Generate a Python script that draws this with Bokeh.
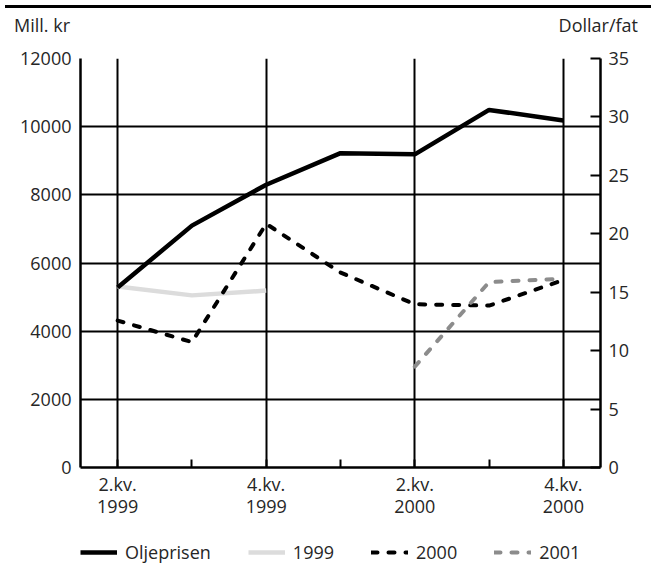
from bokeh.plotting import figure
from bokeh.models import (Range1d, LinearAxis, FixedTicker, Grid, Legend, LegendItem, Div)
from bokeh.layouts import column
from bokeh.embed import file_html
from bokeh.resources import INLINE

# ---- data ----
quarters = [0, 1, 2, 3, 4, 5, 6]
quarter_names = ["2.kv.", "", "4.kv.", "", "2.kv.", "", "4.kv."]
year_names = ["1999", "", "1999", "", "2000", "", "2000"]
oil_price = [15.4, 20.7, 24.2, 26.9, 26.8, 30.6, 29.7]          # Dollar/fat (right axis)
x_1999 = [0, 1, 2]
val_1999 = [5310, 5050, 5190]                                    # Mill. kr
val_2000 = [4310, 3680, 7150, 5720, 4790, 4750, 5500]            # Mill. kr
x_2001 = [4, 5, 6]
val_2001 = [2960, 5440, 5540]                                    # Mill. kr
left_ticks = [0, 2000, 4000, 6000, 8000, 10000, 12000]
right_ticks = [0, 5, 10, 15, 20, 25, 30, 35]
series_names = ["Oljeprisen", "1999", "2000", "2001"]
unit_left = "Mill. kr"
unit_right = "Dollar/fat"

FONT = "Open Sans"
TXT = "#262626"
FS = "18px"
W = 651

STY = {
    "Oljeprisen": dict(line_color="black", line_width=4.5),
    "1999": dict(line_color="#dcdcdc", line_width=4.5),
    "2000": dict(line_color="black", line_width=4, line_dash="6 11", line_cap="round"),
    "2001": dict(line_color="#8c8c8c", line_width=4, line_dash="6 11", line_cap="round"),
}

# ---------- header: rule + unit texts ----------
hdr_html = (
    f'<div style="position:relative;width:{W}px;height:28px;font-family:\'{FONT}\';'
    f'font-size:18px;color:{TXT};">'
    f'<div style="position:absolute;left:0;top:0px;width:{W}px;height:3px;background:#000;"></div>'
    f'<span style="position:absolute;left:9px;top:8px;line-height:24px;white-space:nowrap;">{unit_left}</span>'
    f'<span style="position:absolute;right:18px;top:8px;line-height:24px;white-space:nowrap;">{unit_right}</span>'
    '</div>'
)
hdr = Div(text=hdr_html, width=W, height=28)

# ---------- main chart ----------
p = figure(frame_width=520, frame_height=409,
           x_range=Range1d(-0.5, 6.5), y_range=Range1d(0, 12000),
           output_backend="svg", toolbar_location=None,
           min_border_left=80, min_border_right=51, min_border_top=20, min_border_bottom=53,
           outline_line_color=None, background_fill_color="white", border_fill_color="white")
p.extra_y_ranges = {"oil": Range1d(0, 35)}

p.xgrid.visible = False
p.ygrid.ticker = FixedTicker(ticks=left_ticks)
p.ygrid.grid_line_color = "black"
p.ygrid.grid_line_width = 2
p.add_layout(Grid(dimension=0, ticker=FixedTicker(ticks=[0, 2, 4, 6]),
                  grid_line_color="black", grid_line_width=2))

xa = p.xaxis[0]
xa.ticker = FixedTicker(ticks=quarters)
xa.major_label_overrides = {q: l for q, l in zip(quarters, quarter_names)}
xa.major_tick_in = 8
xa.major_tick_out = 0
xa.major_tick_line_width = 2
xa.minor_tick_line_color = None
xa.axis_line_width = 2.5
xa.major_label_text_font = FONT
xa.major_label_text_font_size = FS
xa.major_label_text_color = TXT
xa.major_label_standoff = 4

xa2 = LinearAxis(ticker=FixedTicker(ticks=quarters))
xa2.major_label_overrides = {q: l for q, l in zip(quarters, year_names)}
xa2.axis_line_color = None
xa2.major_tick_line_color = None
xa2.minor_tick_line_color = None
xa2.major_tick_in = 0
xa2.major_tick_out = 0
xa2.major_label_text_font = FONT
xa2.major_label_text_font_size = FS
xa2.major_label_text_color = TXT
xa2.major_label_standoff = 1
p.add_layout(xa2, "below")

ya = p.yaxis[0]
ya.ticker = FixedTicker(ticks=left_ticks)
ya.major_tick_in = 0
ya.major_tick_out = 0
ya.minor_tick_line_color = None
ya.axis_line_width = 2.5
ya.major_label_text_font = FONT
ya.major_label_text_font_size = FS
ya.major_label_text_color = TXT
ya.major_label_standoff = 9

ra = LinearAxis(y_range_name="oil", ticker=FixedTicker(ticks=right_ticks))
ra.major_tick_in = 10
ra.major_tick_out = 0
ra.major_tick_line_width = 2
ra.minor_tick_line_color = None
ra.axis_line_width = 2.5
ra.major_label_text_font = FONT
ra.major_label_text_font_size = FS
ra.major_label_text_color = TXT
ra.major_label_standoff = 8
p.add_layout(ra, "right")

p.line(x_1999, val_1999, **STY["1999"])
p.line(quarters, val_2000, **STY["2000"])
p.line(x_2001, val_2001, **STY["2001"])
p.line(quarters, oil_price, y_range_name="oil", **STY["Oljeprisen"])

# ---------- legend strip ----------
lg = figure(width=W, height=44, frame_width=520, x_range=Range1d(-0.5, 6.5),
            y_range=Range1d(-200, -100),
            output_backend="svg", toolbar_location=None,
            min_border_left=80, min_border_right=51, min_border_top=0, min_border_bottom=0,
            outline_line_color=None, border_fill_color="white")
lg.axis.visible = False
lg.grid.visible = False
lr = {
    "Oljeprisen": lg.line(quarters, oil_price, **STY["Oljeprisen"]),
    "1999": lg.line(x_1999, val_1999, **STY["1999"]),
    "2000": lg.line(quarters, val_2000, **STY["2000"]),
    "2001": lg.line(x_2001, val_2001, **STY["2001"]),
}
legend = Legend(items=[LegendItem(label=n, renderers=[lr[n]]) for n in series_names],
                orientation="horizontal", location=(0, 0),
                glyph_width=37, glyph_height=20, label_standoff=8, spacing=37,
                padding=0, margin=0, border_line_color=None, background_fill_alpha=0,
                label_text_font=FONT, label_text_font_size=FS, label_text_color=TXT)
lg.add_layout(legend)

layout = column(hdr, p, lg)
open("out.html", "w").write(file_html(layout, INLINE))
